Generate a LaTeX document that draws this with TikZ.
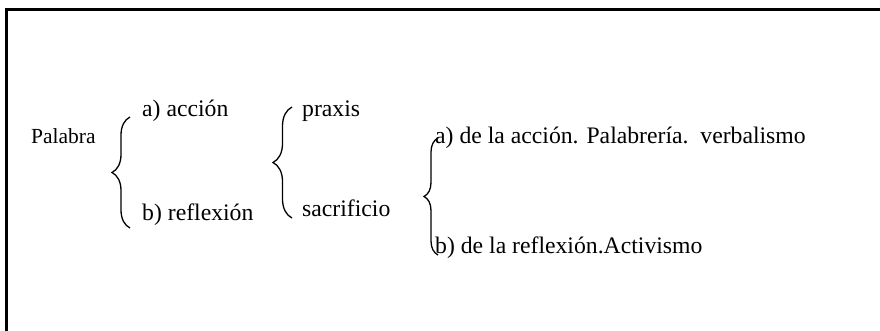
\documentclass[tikz,border=0pt]{standalone}
\usepackage{fontspec}
\setmainfont{Liberation Serif}
\usetikzlibrary{decorations.pathreplacing}
\begin{document}
\begin{tikzpicture}[x=1pt,y=-1pt,
  txt/.style={anchor=base west,inner sep=0pt,font=\fontsize{23.7}{28}\selectfont},
  txtsmall/.style={anchor=base west,inner sep=0pt,font=\fontsize{21.5}{26}\selectfont},
  bracel/.style={decorate,decoration={brace,amplitude=#1},line width=1.3pt},
  frameline/.style={line width=3pt}]
\useasboundingbox (0,0) rectangle (880,330);
% frame (cropped)
\coordinate (fTL) at (6.8,9);
\coordinate (fTR) at (882,9);
\coordinate (fBL) at (6.8,332);
\draw[frameline] (fBL) -- (fTL) -- (fTR);
% texts
\node[txtsmall] (pal) at (31,143) {Palabra};
\node[txt] (acc) at (142,116) {a) acción};
\node[txt] (ref) at (142,220) {b) reflexión};
\node[txt] (pra) at (302,116) {praxis};
\node[txt] (sac) at (302,216) {sacrificio};
\node[txt] (la) at (435,143) {a) de la acción. Palabrería.\ \ verbalismo};
\node[txt] (lb) at (435,253) {b) de la reflexión.Activismo};
% braces
\coordinate (b1t) at (130,117);
\coordinate (b1b) at (130,228);
\coordinate (b2t) at (292,107);
\coordinate (b2b) at (292,218);
\coordinate (b3t) at (438,138);
\coordinate (b3b) at (438,255);
\draw[bracel=18pt] (b1b) -- (b1t);
\draw[bracel=19pt] (b2b) -- (b2t);
\draw[bracel=14pt] (b3b) -- (b3t);
\end{tikzpicture}
\end{document}
